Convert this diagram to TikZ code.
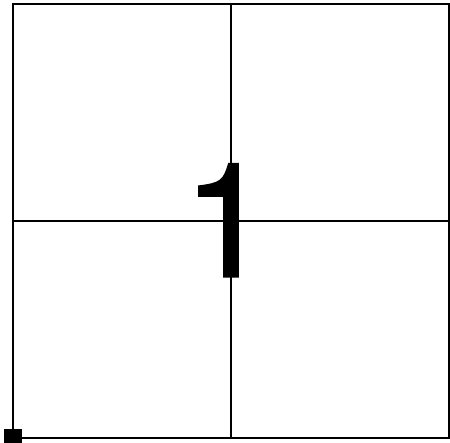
\documentclass[tikz,border=0pt]{standalone}
\usepackage{fontspec}
\setmainfont{TeX Gyre Heros}
\newfontfamily\numfont[FakeBold=0.9]{TeX Gyre Heros}
\usetikzlibrary{positioning}
\begin{document}
\begin{tikzpicture}[
    x=1pt, y=1pt,
    gridline/.style={draw=black, line width=2pt},
    framebox/.style={draw=black, line width=2.4pt},
    cornermark/.style={rectangle, fill=black, minimum size=18pt, inner sep=0pt},
    bignum/.style={font=\numfont\fontsize{160}{160}\selectfont, inner sep=0pt}
  ]
    \useasboundingbox (0,0) rectangle (450,443);
    \clip (0,0) rectangle (450,443);
    % Frame corners
    \coordinate (sw) at (13,5);
    \coordinate (ne) at (449,439);
    \coordinate (mid) at (231,222);
    \draw[framebox] (sw) rectangle (ne);

    % Middle lines
    \draw[gridline] (sw -| mid) -- (ne -| mid);
    \draw[gridline] (sw |- mid) -- (ne |- mid);

    % Number
    \node[bignum, anchor=base] (num) at (227,166) {1};

    % Origin mark
    \node[cornermark] (origin) at (sw) {};
\end{tikzpicture}
\end{document}
